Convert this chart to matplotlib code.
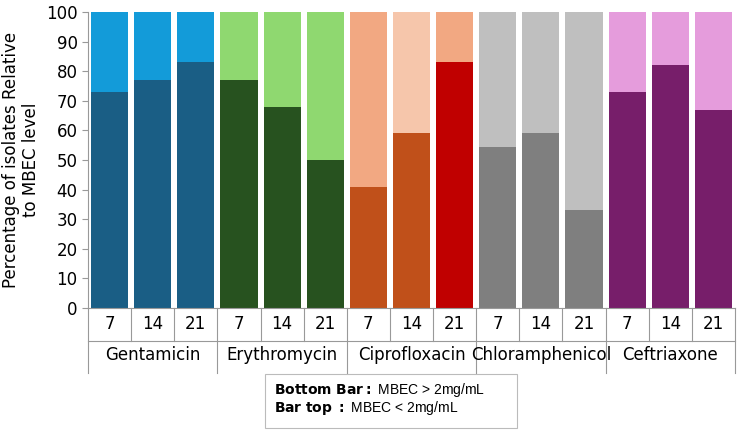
import numpy as np
import matplotlib.pyplot as plt

drugs = ['Gentamicin', 'Erythromycin', 'Ciprofloxacin', 'Chloramphenicol', 'Ceftriaxone']
days = ['7', '14', '21']
bottom_vals = [73, 77, 83, 77, 68, 50, 41, 59, 83, 54.5, 59, 33, 73, 82, 67]
bottom_colors = ['#1a5e85'] * 3 + ['#27521f'] * 3 + ['#c0501a', '#c0501a', '#c00000'] + ['#7f7f7f'] * 3 + ['#771e6a'] * 3
top_colors = ['#139bd9'] * 3 + ['#8fd870'] * 3 + ['#f2a882', '#f6c6ab', '#f2a882'] + ['#bfbfbf'] * 3 + ['#e59cdc'] * 3

fig = plt.figure(figsize=(7.44, 4.34), dpi=100)
ax = fig.add_axes([88 / 744, 1 - 308 / 434, 647 / 744, 296 / 434])

x = np.arange(len(bottom_vals))
bottom_vals = np.array(bottom_vals)
ax.bar(x, bottom_vals, width=0.86, color=bottom_colors)
ax.bar(x, 100 - bottom_vals, bottom=bottom_vals, width=0.86, color=top_colors)
ax.set_xlim(-0.5, len(x) - 0.5)
ax.set_ylim(0, 100)
ax.set_yticks(range(0, 101, 10))
ax.tick_params(axis='y', labelsize=12, length=4, color='#999999')
ax.set_xticks([])
for s in ['top', 'right']:
    ax.spines[s].set_visible(False)
ax.spines['left'].set_color('#999999')
ax.spines['bottom'].set_color('#999999')
ax.set_ylabel('Percentage of isolates Relative\nto MBEC level', fontsize=12)

# category axis drawn below
tr = ax.get_xaxis_transform()
for i in range(len(x) + 1):
    xp = i - 0.5
    low = -0.22 if i % 3 == 0 else -0.11
    ax.plot([xp, xp], [0, low], transform=tr, color='#999999', lw=0.8, clip_on=False)
ax.plot([-0.5, len(x) - 0.5], [-0.11, -0.11], transform=tr, color='#999999', lw=0.8, clip_on=False)
for i in x:
    ax.text(i, -0.055, days[i % 3], transform=tr, ha='center', va='center', fontsize=12)
for g, d in enumerate(drugs):
    ax.text(3 * g + 1, -0.16, d, transform=tr, ha='center', va='center', fontsize=12)

fig.text(274 / 744, 1 - 390 / 434, r'$\bf{Bottom\ Bar:}$ MBEC > 2mg/mL', fontsize=10, va='center',
         family='Liberation Sans')
fig.text(274 / 744, 1 - 408 / 434, r'$\bf{Bar\ top\ :}$ MBEC < 2mg/mL', fontsize=10, va='center',
         family='Liberation Sans')
fig.add_artist(plt.Rectangle((265 / 744, 1 - 428 / 434), 252 / 744, 54 / 434, transform=fig.transFigure,
                             fill=False, ec='#bbbbbb', lw=0.8))

fig.savefig('out.png', dpi=100)
